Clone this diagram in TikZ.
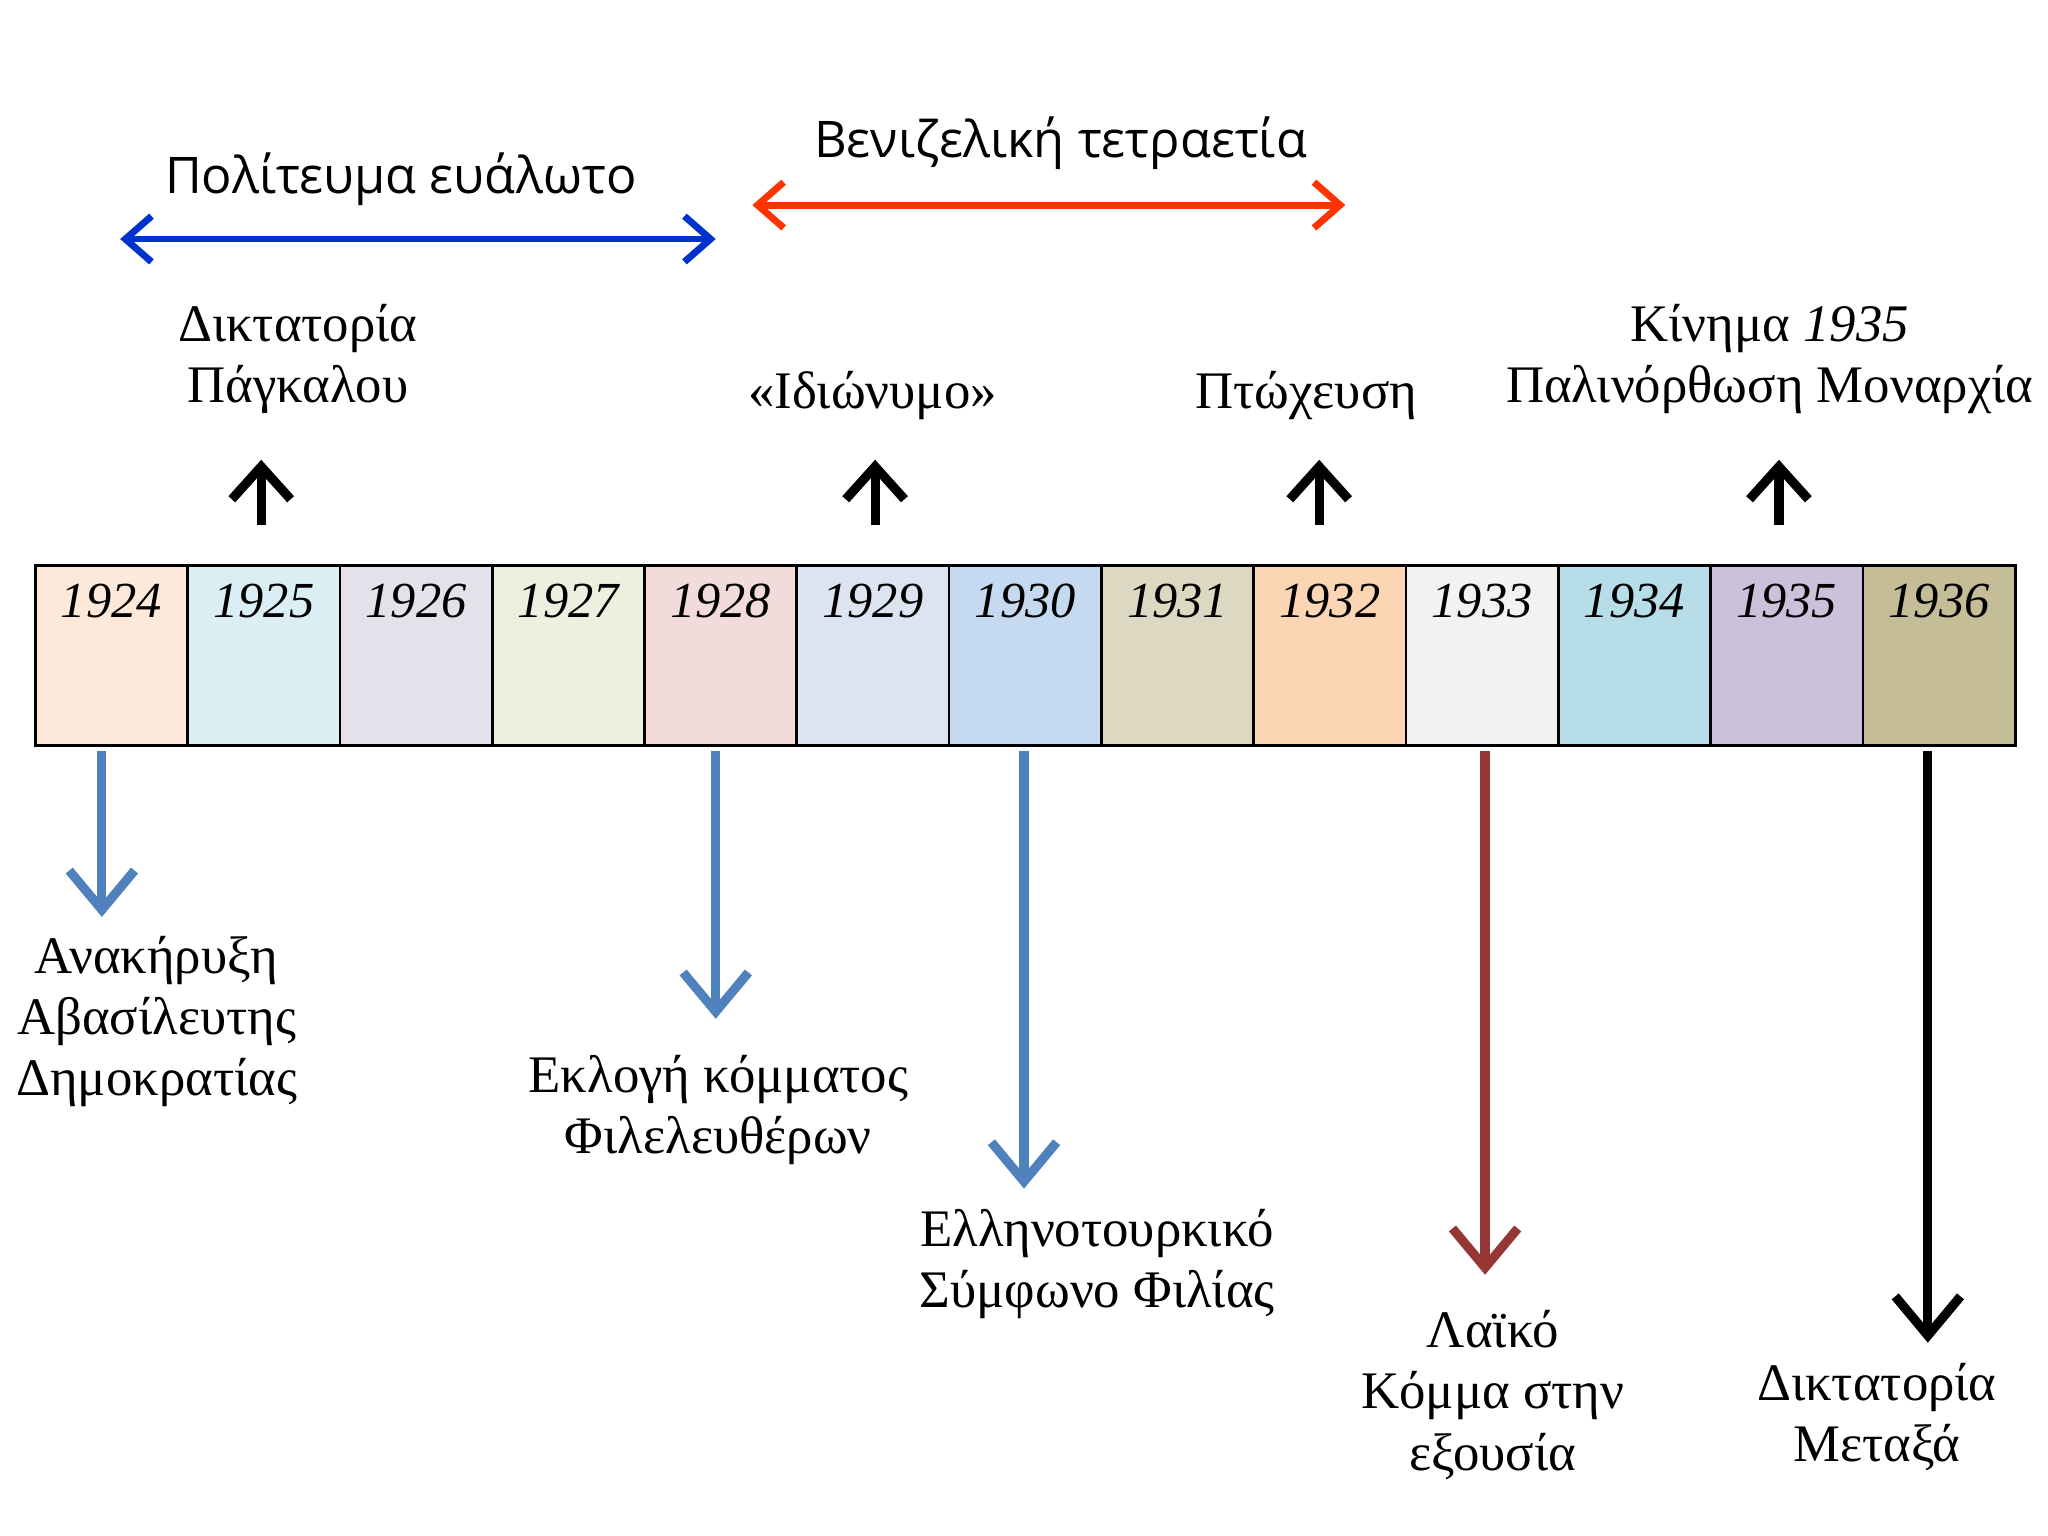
\documentclass[tikz,border=0pt]{standalone}
\usepackage{fontspec}
\setmainfont{Liberation Serif}
\newfontfamily\titlefont{Open Sans}
\usetikzlibrary{positioning,arrows.meta}
\definecolor{c1924}{HTML}{FCE9D9}
\definecolor{c1925}{HTML}{DBEEF3}
\definecolor{c1926}{HTML}{E4E1EA}
\definecolor{c1927}{HTML}{EBF1DE}
\definecolor{c1928}{HTML}{F2DCDB}
\definecolor{c1929}{HTML}{DBE4F0}
\definecolor{c1930}{HTML}{C5D9F0}
\definecolor{c1931}{HTML}{DDD8C2}
\definecolor{c1932}{HTML}{FCD5B4}
\definecolor{c1933}{HTML}{F2F2F2}
\definecolor{c1934}{HTML}{B7DDE8}
\definecolor{c1935}{HTML}{CCC1DA}
\definecolor{c1936}{HTML}{C4BD97}
\definecolor{evblue}{HTML}{4F81BD}
\definecolor{evred}{HTML}{953735}
\definecolor{spanblue}{HTML}{0033CC}
\definecolor{spanred}{HTML}{FF3300}
\begin{document}
\begin{tikzpicture}[x=0.02cm,y=-0.02cm]

    % Define styles
    \tikzset{
      year/.style={draw=black, line width=1.2pt, minimum width=116.6*0.02cm, minimum height=138*0.02cm, anchor=north west, inner sep=0pt},
      yeartext/.style={font=\fontsize{22}{26}\selectfont\itshape, anchor=north},
      label/.style={align=center, font=\fontsize{23}{26.7}\selectfont},
      title/.style={font=\titlefont\fontsize{22}{26}\selectfont},
      up/.style={line width=4pt, -{Straight Barb[length=5mm,width=9mm]}},
      down/.style={line width=4pt, -{Straight Barb[length=6mm,width=10mm]}},
      span/.style={line width=3pt, {Straight Barb[length=4mm,width=7mm]}-{Straight Barb[length=4mm,width=7mm]}}
    }
    \useasboundingbox (0,0) rectangle (1568,1176);

    % Year cells
    \foreach \yr [count=\i from 0] in {1924,...,1936} {
      \node [year, fill=c\yr] (y\yr) at (26+\i*116.6,432) {};
      \node [yeartext] at ([yshift=-0.18cm]y\yr.north) {\yr};
    }

    % Periods
    \coordinate (pa) at (92,183);
    \coordinate (pb) at (548,183);
    \draw [span, spanblue] (pa) -- (pb);
    \node [title] (polit) at (307,137) {Πολίτευμα ευάλωτο};
    \coordinate (va) at (576,157);
    \coordinate (vb) at (1030,157);
    \draw [span, spanred] (va) -- (vb);
    \node [title] (veniz) at (812,110) {Βενιζελική τετραετία};

    % Events above
    \node [label] (pagkalos) at (228,275) {Δικτατορία\\Πάγκαλου};
    \node [label] (idion) at (668,303) {«Ιδιώνυμο»};
    \node [label] (ptoch) at (1000,303) {Πτώχευση};
    \node [label] (kinima) at (1355,275) {Κίνημα {\itshape 1935}\\Παλινόρθωση Μοναρχία};
    \foreach \x/\n in {200/a,670/b,1010/c,1362/d} {
      \coordinate (u\n) at (\x,402);
      \coordinate (v\n) at (\x,352);
      \draw [up] (u\n) -- (v\n);
    }

    % Events below
    \coordinate (s1) at (78,575);   \coordinate (e1) at (78,702);
    \coordinate (s2) at (548,575);  \coordinate (e2) at (548,780);
    \coordinate (s3) at (784,575);  \coordinate (e3) at (784,910);
    \coordinate (s4) at (1137,575); \coordinate (e4) at (1137,976);
    \coordinate (s5) at (1476,575); \coordinate (e5) at (1476,1028);
    \draw [down, evblue] (s1) -- (e1);
    \draw [down, evblue] (s2) -- (e2);
    \draw [down, evblue] (s3) -- (e3);
    \draw [down, evred] (s4) -- (e4);
    \draw [down, black] (s5) -- (e5);
    \node [label] (dimokr) at (120,782) {Ανακήρυξη\\Αβασίλευτης\\Δημοκρατίας};
    \node [label] (eklogi) at (550,850) {Εκλογή κόμματος\\Φιλελευθέρων};
    \node [label] (symfono) at (840,968) {Ελληνοτουρκικό\\Σύμφωνο Φιλίας};
    \node [label] (laiko) at (1143,1068) {Λαϊκό\\Κόμμα στην\\εξουσία};
    \node [label] (metaxas) at (1437,1085) {Δικτατορία\\Μεταξά};

\end{tikzpicture}
\end{document}
